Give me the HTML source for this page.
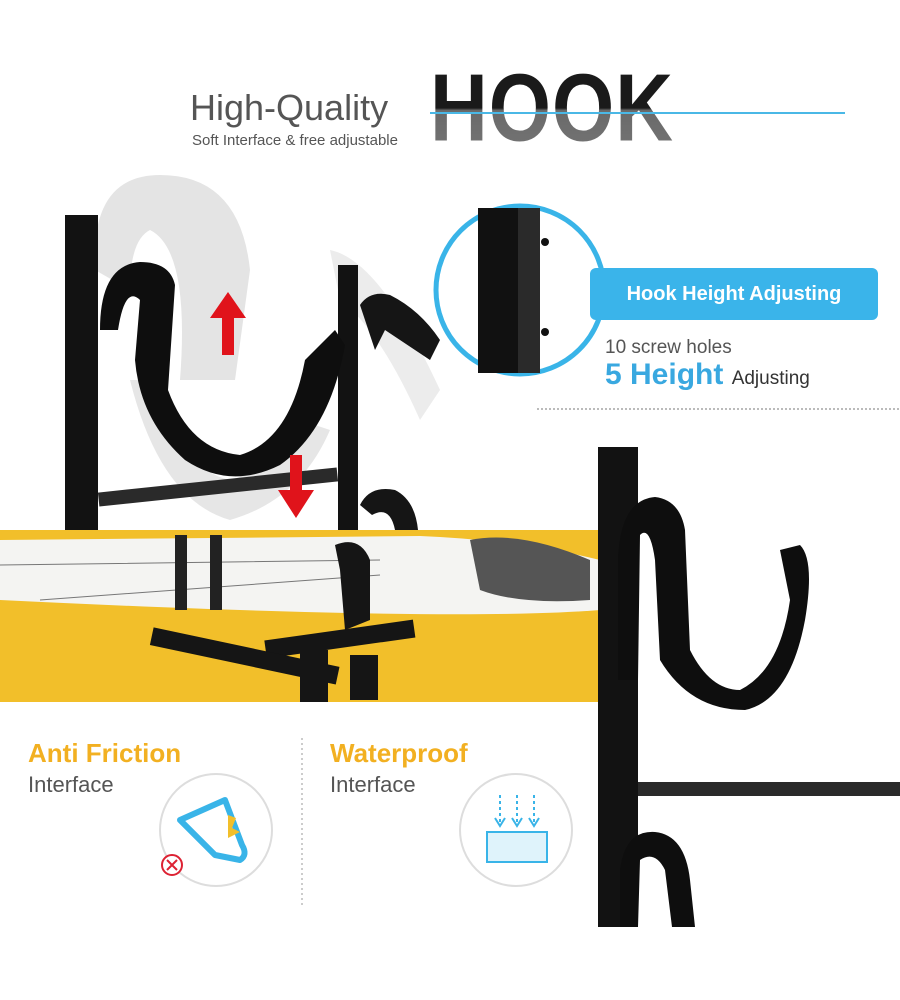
<!DOCTYPE html>
<html><head><meta charset="utf-8"><style>
body{margin:0;width:900px;height:1000px;background:#fff;position:relative;overflow:hidden;font-family:"Liberation Sans",sans-serif}
.a{position:absolute}
</style></head><body>
<svg class="a" style="left:0;top:0" width="900" height="1000">
<rect x="0" y="530" width="600" height="172" fill="#f2bf2a"/>
<path d="M0 540 L420 536 Q520 540 600 560 L600 610 Q450 622 0 600 Z" fill="#f4f4f2"/>
<path d="M470 540 Q520 530 590 560 L590 600 Q520 605 480 590 Z" fill="#555"/>
<path d="M0 565 L380 560 M40 600 L380 575" stroke="#777" stroke-width="1"/>
<rect x="175" y="535" width="12" height="75" fill="#222"/><rect x="210" y="535" width="12" height="75" fill="#222"/>
<path d="M335 545 Q360 535 370 560 L370 620 L345 630 L340 570 Z" fill="#151515"/>
<rect x="265" y="630" width="150" height="18" fill="#151515" transform="rotate(-8 340 640)"/>
<rect x="150" y="648" width="190" height="18" fill="#151515" transform="rotate(12 250 655)"/>
<rect x="300" y="650" width="28" height="52" fill="#151515"/>
<rect x="350" y="655" width="28" height="45" fill="#151515"/>
<path d="M95 270 Q90 175 160 175 Q240 175 250 270 L235 380 L180 380 Q190 250 150 230 Q130 240 130 290 Z" fill="#e4e4e4"/>
<path d="M130 380 Q160 500 230 520 Q300 500 330 430 L300 420 Q270 470 230 480 Q180 470 160 380Z" fill="#e6e6e6"/>
<path d="M330 250 Q380 260 440 390 L420 420 Q380 330 340 300Z" fill="#ececec"/>
<rect x="65" y="215" width="33" height="315" fill="#121212"/>
<rect x="338" y="265" width="20" height="265" fill="#121212"/>
<rect x="98" y="480" width="240" height="14" fill="#2a2a2a" transform="rotate(-6 218 487)"/>
<path d="M100 330 Q100 265 140 262 Q170 262 175 285 L168 390 Q190 450 240 455 Q290 440 305 360 L335 330 L345 345 Q330 430 280 465 Q230 490 185 460 Q140 420 135 360 L140 300 Q125 285 118 330 Z" fill="#0e0e0e"/>
<path d="M360 305 Q370 290 390 295 Q420 310 440 340 L430 360 Q400 340 385 330 L375 350 Z" fill="#151515"/>
<path d="M360 505 Q370 485 395 490 Q415 500 418 530 L395 530 Q390 505 372 515Z" fill="#151515"/>
<path d="M228 292 L246 318 L234 318 L234 355 L222 355 L222 318 L210 318Z" fill="#e0131b"/>
<path d="M290 455 L302 455 L302 490 L314 490 L296 518 L278 490 L290 490Z" fill="#e0131b"/>
<circle cx="520" cy="290" r="84" fill="#fff" stroke="#39b4e8" stroke-width="5"/>
<rect x="478" y="208" width="40" height="165" fill="#111"/>
<rect x="518" y="208" width="22" height="165" fill="#2a2a2a"/>
<circle cx="545" cy="242" r="4" fill="#111"/><circle cx="545" cy="332" r="4" fill="#111"/>
<rect x="590" y="268" width="288" height="52" rx="6" fill="#3ab4ea"/>
<line x1="537" y1="409" x2="900" y2="409" stroke="#777" stroke-dasharray="2 2"/>
<rect x="598" y="447" width="40" height="480" fill="#121212"/>
<rect x="638" y="782" width="262" height="14" fill="#2a2a2a"/>
<path d="M618 560 Q620 500 655 497 Q680 500 685 530 L690 650 Q710 690 740 690 Q780 670 790 600 L780 550 L800 545 Q815 560 805 620 Q790 700 745 710 Q690 710 660 660 L655 560 Q650 525 640 535 L638 680 L618 680Z" fill="#0e0e0e"/>
<path d="M620 870 Q625 830 655 832 Q685 835 690 880 L695 927 L672 927 L665 870 Q655 850 640 860 L638 927 L620 927Z" fill="#0e0e0e"/>
<line x1="302" y1="738" x2="302" y2="905" stroke="#999" stroke-dasharray="2 3"/>
<circle cx="216" cy="830" r="56" fill="#fff" stroke="#ddd" stroke-width="2"/>
<path d="M225 800 L180 820 L215 855 L240 860 Q248 855 242 845 Z" fill="none" stroke="#39b4e8" stroke-width="6" stroke-linejoin="round"/>
<path d="M228 815 L236 818 L232 828 L240 832 L228 838 Z" fill="#f2bf2a"/>
<circle cx="172" cy="865" r="10" fill="#fff" stroke="#d23" stroke-width="2"/>
<path d="M167 860 L177 870 M177 860 L167 870" stroke="#d23" stroke-width="2"/>
<circle cx="516" cy="830" r="56" fill="#fff" stroke="#ddd" stroke-width="2"/>
<rect x="487" y="832" width="60" height="30" fill="#dff3fb" stroke="#39b4e8" stroke-width="2"/>
<path d="M500 795 V822 M517 795 V822 M534 795 V822" stroke="#39b4e8" stroke-width="2" stroke-dasharray="3 3"/>
<path d="M495 818 L500 826 L505 818 M512 818 L517 826 L522 818 M529 818 L534 826 L539 818" fill="none" stroke="#39b4e8" stroke-width="2"/>
</svg>
<div class="a" style="left:430px;top:58px;font-size:80px;font-weight:bold;letter-spacing:1px;line-height:100px;transform:scaleY(1.2);transform-origin:0 50%;background:linear-gradient(#1a1a1a 0,#1a1a1a 50%,#6a6a6a 52%,#777 100%);-webkit-background-clip:text;background-clip:text;color:transparent">HOOK</div>
<svg class="a" style="left:0;top:0" width="900" height="130"><line x1="430" y1="113" x2="845" y2="113" stroke="#4ab8e6" stroke-width="2"/></svg>
<div class="a" style="left:190px;top:88px;font-size:36px;color:#555;line-height:40px">High-Quality</div>
<div class="a" style="left:192px;top:132px;font-size:15px;color:#555">Soft Interface &amp; free adjustable</div>
<div class="a" style="left:590px;top:268px;width:288px;line-height:52px;text-align:center;color:#fff;font-weight:bold;font-size:20px">Hook Height Adjusting</div>
<div class="a" style="left:605px;top:337px;font-size:19px;color:#555">10 screw holes</div>
<div class="a" style="left:605px;top:358px;font-size:30px;color:#39a8e0;font-weight:bold">5 Height <span style="font-size:19px;color:#333;font-weight:normal">Adjusting</span></div>
<div class="a" style="left:28px;top:738px;font-size:26px;color:#f2b021;font-weight:bold">Anti Friction</div>
<div class="a" style="left:28px;top:772px;font-size:22px;color:#555">Interface</div>
<div class="a" style="left:330px;top:738px;font-size:26px;color:#f2b021;font-weight:bold">Waterproof</div>
<div class="a" style="left:330px;top:772px;font-size:22px;color:#555">Interface</div>
</body></html>
